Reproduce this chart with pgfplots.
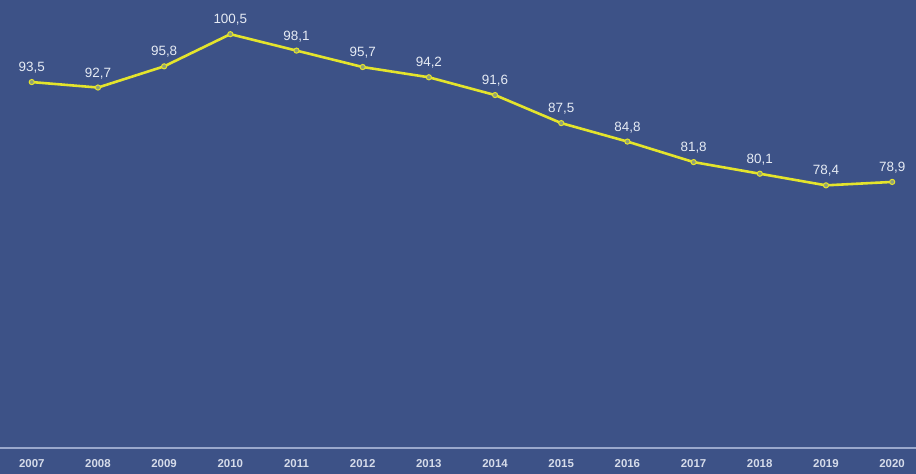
\documentclass[border=0pt]{standalone}
\usepackage{pgfplots}
\pgfplotsset{compat=1.18}
\usepackage{fontspec}
\setmainfont{Liberation Sans}
\definecolor{bg}{HTML}{3D5287}
\definecolor{ln}{HTML}{E4E42C}
\definecolor{mk}{HTML}{8FA07A}
\definecolor{axl}{HTML}{9AA8CC}
\definecolor{lab}{HTML}{E6EBF4}
\definecolor{tick}{HTML}{D6DCEA}
\begin{document}
\begin{tikzpicture}[x=1bp,y=1bp]
\fill[bg] (0,0) rectangle (916,474);
\useasboundingbox (0,0) rectangle (916,474);
\begin{axis}[
  at={(0,38)}, anchor=south west,
  width=916bp, height=448bp, scale only axis,
  xmin=2006.52, xmax=2020.36,
  ymin=40, ymax=105.5,
  axis y line=none,
  axis x line*=bottom,
  x axis line style={axl, line width=2pt, -},
  xtick={2007,...,2020},
  xticklabel style={font=\fontsize{11.5}{13}\selectfont\bfseries, text=tick, yshift=-8pt},
  /pgf/number format/assume math mode=true,
  x tick label style={/pgf/number format/1000 sep={}},
  major tick length=0pt,
  clip=false,
  nodes near coords,
  nodes near coords style={font=\fontsize{13.5}{15}\selectfont, text=lab, anchor=south, yshift=5pt,
    /pgf/number format/.cd, fixed, fixed zerofill, precision=1, use comma, assume math mode=true},
]
\addplot[ln, line width=2.6pt, mark=*, mark size=2.6pt, mark options={fill=mk, draw=ln, line width=1pt}] coordinates {
(2007,93.5) (2008,92.7) (2009,95.8) (2010,100.5) (2011,98.1) (2012,95.7) (2013,94.2)
(2014,91.6) (2015,87.5) (2016,84.8) (2017,81.8) (2018,80.1) (2019,78.4) (2020,78.9)
};
\end{axis}
\end{tikzpicture}
\end{document}
